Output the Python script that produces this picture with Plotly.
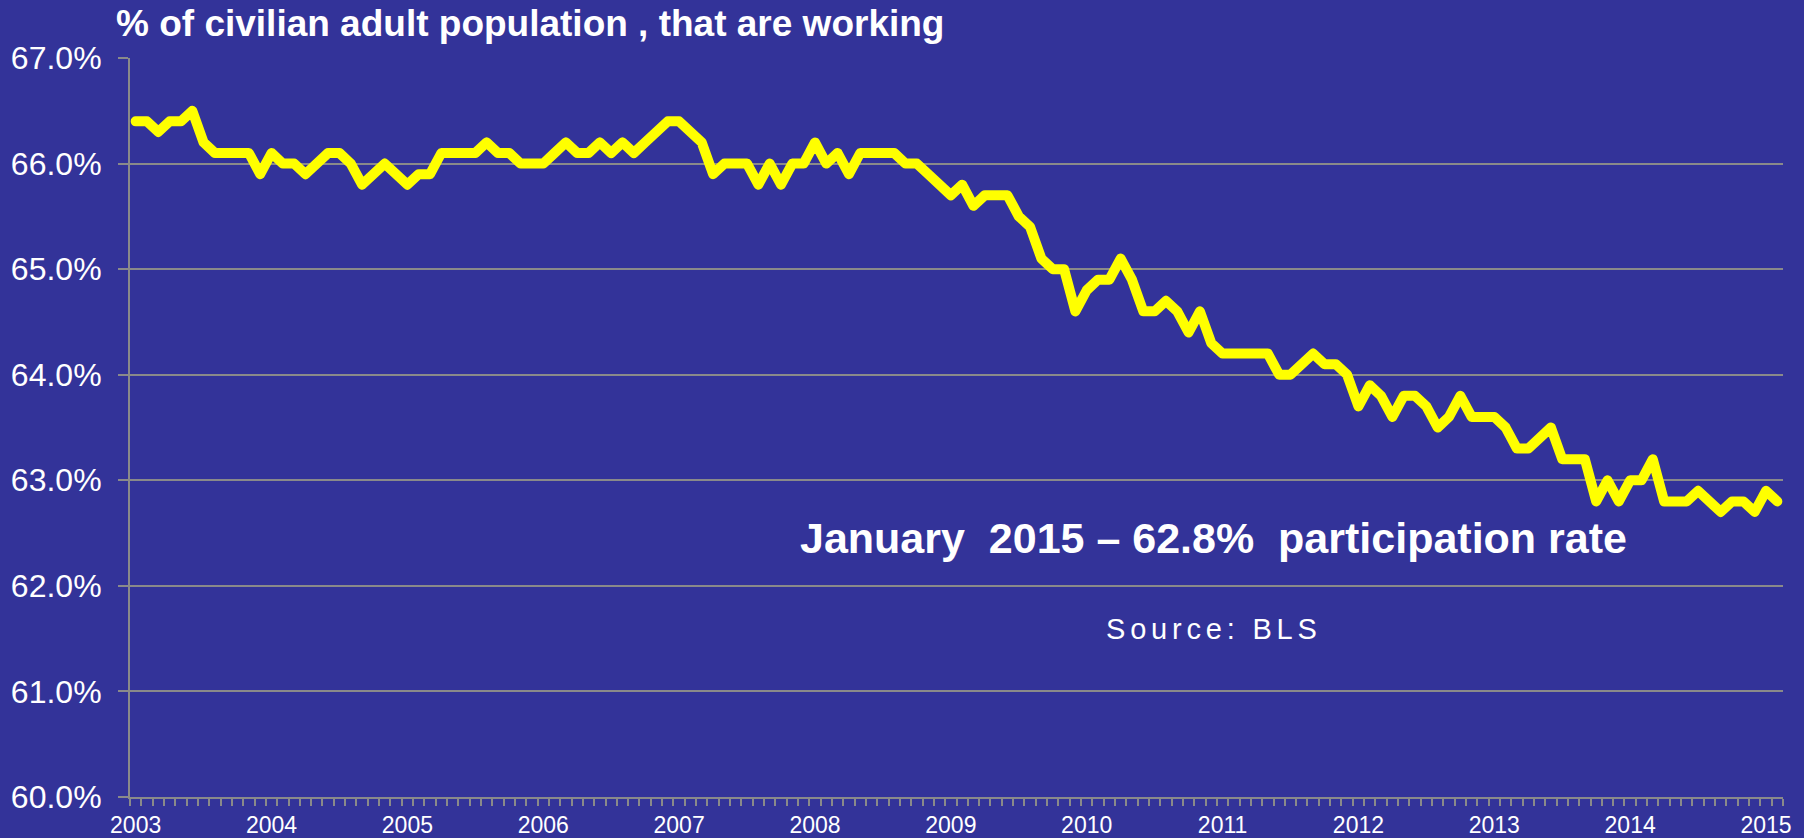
import plotly.graph_objects as go

# Civilian labor force participation rate (%), monthly, Jan 2003 - Feb 2015
rate_2003 = [66.4, 66.4, 66.3, 66.4, 66.4, 66.5, 66.2, 66.1, 66.1, 66.1, 66.1, 65.9]
rate_2004 = [66.1, 66.0, 66.0, 65.9, 66.0, 66.1, 66.1, 66.0, 65.8, 65.9, 66.0, 65.9]
rate_2005 = [65.8, 65.9, 65.9, 66.1, 66.1, 66.1, 66.1, 66.2, 66.1, 66.1, 66.0, 66.0]
rate_2006 = [66.0, 66.1, 66.2, 66.1, 66.1, 66.2, 66.1, 66.2, 66.1, 66.2, 66.3, 66.4]
rate_2007 = [66.4, 66.3, 66.2, 65.9, 66.0, 66.0, 66.0, 65.8, 66.0, 65.8, 66.0, 66.0]
rate_2008 = [66.2, 66.0, 66.1, 65.9, 66.1, 66.1, 66.1, 66.1, 66.0, 66.0, 65.9, 65.8]
rate_2009 = [65.7, 65.8, 65.6, 65.7, 65.7, 65.7, 65.5, 65.4, 65.1, 65.0, 65.0, 64.6]
rate_2010 = [64.8, 64.9, 64.9, 65.1, 64.9, 64.6, 64.6, 64.7, 64.6, 64.4, 64.6, 64.3]
rate_2011 = [64.2, 64.2, 64.2, 64.2, 64.2, 64.0, 64.0, 64.1, 64.2, 64.1, 64.1, 64.0]
rate_2012 = [63.7, 63.9, 63.8, 63.6, 63.8, 63.8, 63.7, 63.5, 63.6, 63.8, 63.6, 63.6]
rate_2013 = [63.6, 63.5, 63.3, 63.3, 63.4, 63.5, 63.2, 63.2, 63.2, 62.8, 63.0, 62.8]
rate_2014 = [63.0, 63.0, 63.2, 62.8, 62.8, 62.8, 62.9, 62.8, 62.7, 62.8, 62.8, 62.7]
rate_2015 = [62.9, 62.8]

year_labels = ["2003", "2004", "2005", "2006", "2007", "2008", "2009",
               "2010", "2011", "2012", "2013", "2014", "2015"]
month_names = ["Jan", "Feb", "Mar", "Apr", "May", "Jun",
               "Jul", "Aug", "Sep", "Oct", "Nov", "Dec"]

yearly = [rate_2003, rate_2004, rate_2005, rate_2006, rate_2007, rate_2008,
          rate_2009, rate_2010, rate_2011, rate_2012, rate_2013, rate_2014, rate_2015]

values = []
hover = []
for yl, vals in zip(year_labels, yearly):
    for m, v in enumerate(vals):
        values.append(v)
        hover.append(f"{month_names[m]} {yl}")
idx = list(range(len(values)))

title_text = "% of civilian adult population , that are working"
note_text = "January\u00a0 2015 \u2013 62.8%\u00a0 participation rate"
source_text = "Source: BLS"

BG = "#333399"
GRID = "#8a8a8a"
FONT = "Arial, Liberation Sans, sans-serif"

fig = go.Figure()
fig.add_trace(go.Scatter(
    x=idx, y=values, mode="lines", text=hover,
    hovertemplate="%{text}: %{y:.1f}%<extra></extra>",
    line=dict(color="#FFFF00", width=10),
))

fig.update_layout(
    width=1804, height=838,
    paper_bgcolor=BG, plot_bgcolor=BG,
    margin=dict(l=130, r=21, t=58, b=41, autoexpand=False),
    showlegend=False,
    font=dict(family=FONT, color="white"),
    title=dict(
        text="<b>" + title_text + "</b>",
        xref="container", yref="container",
        x=116 / 1804, xanchor="left",
        y=1 - 23 / 838, yanchor="middle",
        font=dict(size=37, color="white", family=FONT),
    ),
    xaxis=dict(
        range=[-0.5, len(values) - 0.5],
        tickmode="array",
        tickvals=[i * 12 for i in range(len(year_labels))],
        ticktext=year_labels,
        ticks="",
        showgrid=False,
        zeroline=False,
        automargin=False,
        showline=True, linecolor=GRID, linewidth=2,
        tickfont=dict(size=23, color="white", family=FONT),
        ticklabelstandoff=6,
        minor=dict(tickmode="linear", tick0=-0.5, dtick=1, ticks="outside",
                   ticklen=7, tickcolor=GRID, tickwidth=2, showgrid=False),
    ),
    yaxis=dict(
        range=[60, 67],
        tickmode="linear", tick0=60, dtick=1,
        tickformat=".1f", ticksuffix="%",
        ticks="outside", ticklen=10, tickcolor=GRID, tickwidth=2,
        showgrid=True, gridcolor=GRID, gridwidth=2,
        zeroline=False,
        automargin=False,
        showline=True, linecolor=GRID, linewidth=2,
        tickfont=dict(size=32, color="white", family=FONT),
        ticklabelstandoff=10,
    ),
    annotations=[
        dict(text="<b>" + note_text + "</b>", xref="paper", yref="paper",
             x=(1213.5 - 130) / 1652.7, y=(797 - 538) / 739,
             xanchor="center", yanchor="middle", showarrow=False,
             font=dict(size=43, color="white", family=FONT)),
        dict(text='<span style="letter-spacing:4.8px">' + source_text + "</span>",
             xref="paper", yref="paper",
             x=(1214 - 130) / 1652.7, y=(797 - 629) / 739,
             xanchor="center", yanchor="middle", showarrow=False,
             font=dict(size=29, color="white", family=FONT)),
    ],
)

post_js = """
document.body.style.margin = '0';
document.body.style.background = '#333399';
var gd = document.getElementById('{plot_id}');
function roundLines() {
  gd.querySelectorAll('.scatterlayer .js-line').forEach(function(p) {
    p.style.strokeLinejoin = 'round';
    p.style.strokeLinecap = 'round';
  });
}
roundLines();
if (gd.on) { gd.on('plotly_afterplot', roundLines); }
setTimeout(roundLines, 50);
"""

fig.write_html("out.html", post_script=post_js, config={"displayModeBar": False})
